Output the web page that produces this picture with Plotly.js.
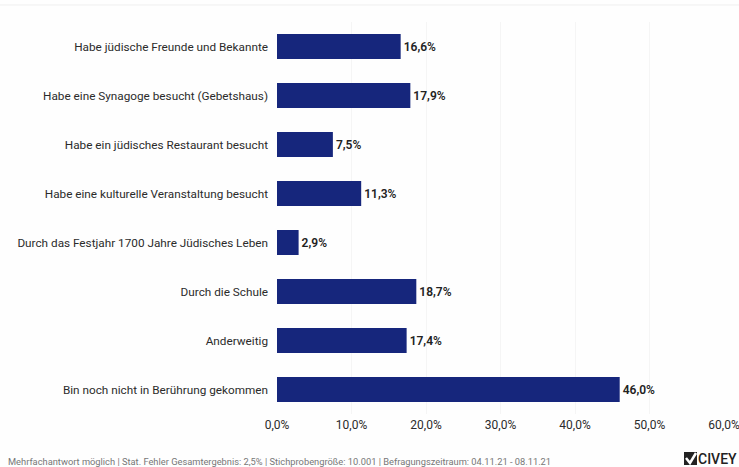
<!DOCTYPE html>
<html>
<head>
<meta charset="utf-8">
<script src="https://cdn.plot.ly/plotly-3.0.1.min.js"></script>
<style>html,body{margin:0;padding:0;background:#fff}</style>
</head>
<body>
<div id="chart" style="width:739px;height:467px"></div>
<script>
const categories = [
  "Habe jüdische Freunde und Bekannte",
  "Habe eine Synagoge besucht (Gebetshaus)",
  "Habe ein jüdisches Restaurant besucht",
  "Habe eine kulturelle Veranstaltung besucht",
  "Durch das Festjahr 1700 Jahre Jüdisches Leben",
  "Durch die Schule",
  "Anderweitig",
  "Bin noch nicht in Berührung gekommen"
];
const shares = [16.6, 17.9, 7.5, 11.3, 2.9, 18.7, 17.4, 46.0];
const tickValues = [0, 10, 20, 30, 40, 50, 60];
const tickLabels = ["0,0%", "10,0%", "20,0%", "30,0%", "40,0%", "50,0%", "60,0%"];
const footnote = "Mehrfachantwort möglich | Stat. Fehler Gesamtergebnis: 2,5% | Stichprobengröße: 10.001 | Befragungszeitraum: 04.11.21 - 08.11.21";
const brand = "CIVEY";

const fontFamily = "Roboto, Arial, sans-serif";
const W = 739, H = 467;
const M = {l: 277, r: 15, t: 22, b: 53};
// Page pixels to paper fractions, for the furniture outside the plot area
const fx = v => (v - M.l) / (W - M.l - M.r);
const fy = v => 1 - (v - M.t) / (H - M.t - M.b);

Plotly.newPlot("chart", [{
  type: "bar",
  orientation: "h",
  y: categories,
  x: shares,
  marker: {color: "#16267c", line: {width: 0}},
  text: shares.map(v => v.toFixed(1).replace(".", ",") + "%"),
  textposition: "outside",
  cliponaxis: false,
  textfont: {family: fontFamily, size: 12, color: "#222", weight: 600},
  hoverinfo: "skip"
}], {
  width: W,
  height: H,
  paper_bgcolor: "#fefefe",
  plot_bgcolor: "#fefefe",
  showlegend: false,
  bargap: 0.49,
  margin: M,
  font: {family: fontFamily},
  xaxis: {
    range: [0, 60],
    tickmode: "array",
    tickvals: tickValues,
    ticktext: tickLabels,
    tickfont: {family: fontFamily, size: 12, color: "#2b2b2b"},
    ticklabeloverflow: "allow",
    showgrid: true,
    gridcolor: "#f5f5f5",
    gridwidth: 1,
    zeroline: false,
    showline: false,
    ticks: "",
    ticklabelstandoff: 2
  },
  yaxis: {
    autorange: "reversed",
    type: "category",
    tickfont: {family: fontFamily, size: 11.75, color: "#2b2b2b"},
    showgrid: false,
    showline: false,
    zeroline: false,
    ticks: "",
    ticklen: 0,
    ticklabelstandoff: 8
  },
  shapes: [
    // Thin rule across the top of the page
    {type: "line", xref: "paper", yref: "paper",
     x0: fx(0), x1: fx(739), y0: fy(5), y1: fy(5),
     line: {color: "#efefef", width: 1}},
    // Brand badge: dark square with a white chevron-style check
    {type: "rect", xref: "paper", yref: "paper", layer: "above",
     x0: fx(684), x1: fx(697), y0: fy(452), y1: fy(465),
     fillcolor: "#222", line: {width: 0}},
    {type: "path", xref: "paper", yref: "paper", layer: "above",
     path: `M ${fx(686)} ${fy(458)} L ${fx(690)} ${fy(463)} L ${fx(696)} ${fy(453)}`,
     line: {color: "#fff", width: 2.5}}
  ],
  annotations: [
    {xref: "paper", yref: "paper", x: fx(6), y: fy(461), xanchor: "left", yanchor: "middle",
     text: footnote, showarrow: false, font: {family: fontFamily, size: 9.3, color: "#777"}},
    {xref: "paper", yref: "paper", x: fx(696), y: fy(459), xanchor: "left", yanchor: "middle",
     text: brand, showarrow: false, font: {family: fontFamily, size: 14, color: "#222", weight: 500}}
  ]
}, {displayModeBar: false, staticPlot: true});
</script>
</body>
</html>
